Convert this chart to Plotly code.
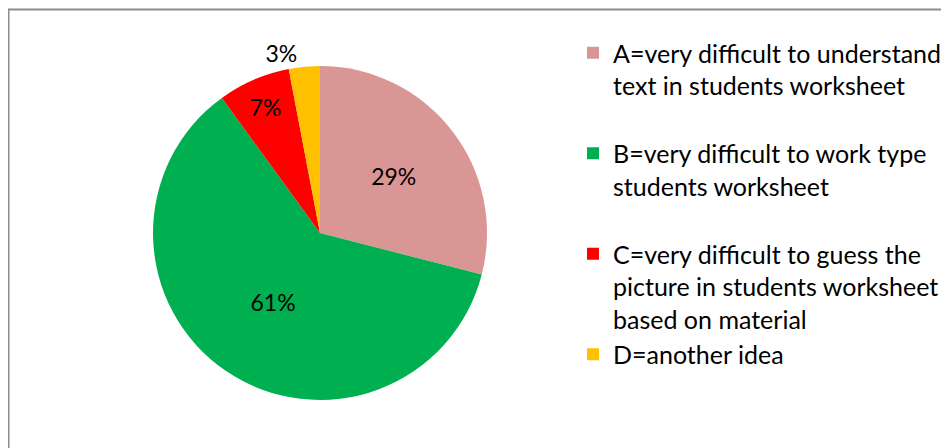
import plotly.graph_objects as go

labels = [
    "A=very difficult to understand<br>text in students worksheet<br> ",
    "B=very difficult to work type<br>students worksheet<br> ",
    "C=very difficult to guess the<br>picture in students worksheet<br>based on material",
    "D=another idea",
]
values = [29, 61, 7, 3]
colors = ["#D99694", "#00B050", "#FF0000", "#FFC000"]
text_positions = ["inside", "inside", "inside", "outside"]

W, H = 949, 448
# page body has an 8px margin; figure coordinates are offset accordingly
cx, cy, r = 312, 225, 167

fig = go.Figure(go.Pie(
    labels=labels,
    values=values,
    sort=False,
    direction="clockwise",
    rotation=0,
    marker=dict(colors=colors, line=dict(width=0)),
    textinfo="percent",
    textposition=text_positions,
    insidetextorientation="horizontal",
    textfont=dict(family="Lato", size=23, color="black"),
    domain=dict(x=[(cx - r) / W, (cx + r) / W], y=[1 - (cy + r) / H, 1 - (cy - r) / H]),
    hoverinfo="label+percent",
))

fig.update_layout(
    width=W, height=H,
    margin=dict(l=0, r=0, t=0, b=0),
    paper_bgcolor="white",
    plot_bgcolor="white",
    font=dict(family="Lato", size=25, color="black"),
    legend=dict(
        x=565 / W, y=1 - 22 / H, xanchor="left", yanchor="top",
        valign="top", tracegroupgap=0, itemclick=False,
        font=dict(family="Lato", size=25, color="black"),
    ),
    showlegend=True,
    shapes=[dict(
        type="rect", xref="paper", yref="paper",
        x0=0.5 / W, x1=1.05, y0=-0.05, y1=1 - 1.5 / H,
        line=dict(color="#8C8C8C", width=2), fillcolor="rgba(0,0,0,0)",
    )],
)

fig.write_html("out.html")
